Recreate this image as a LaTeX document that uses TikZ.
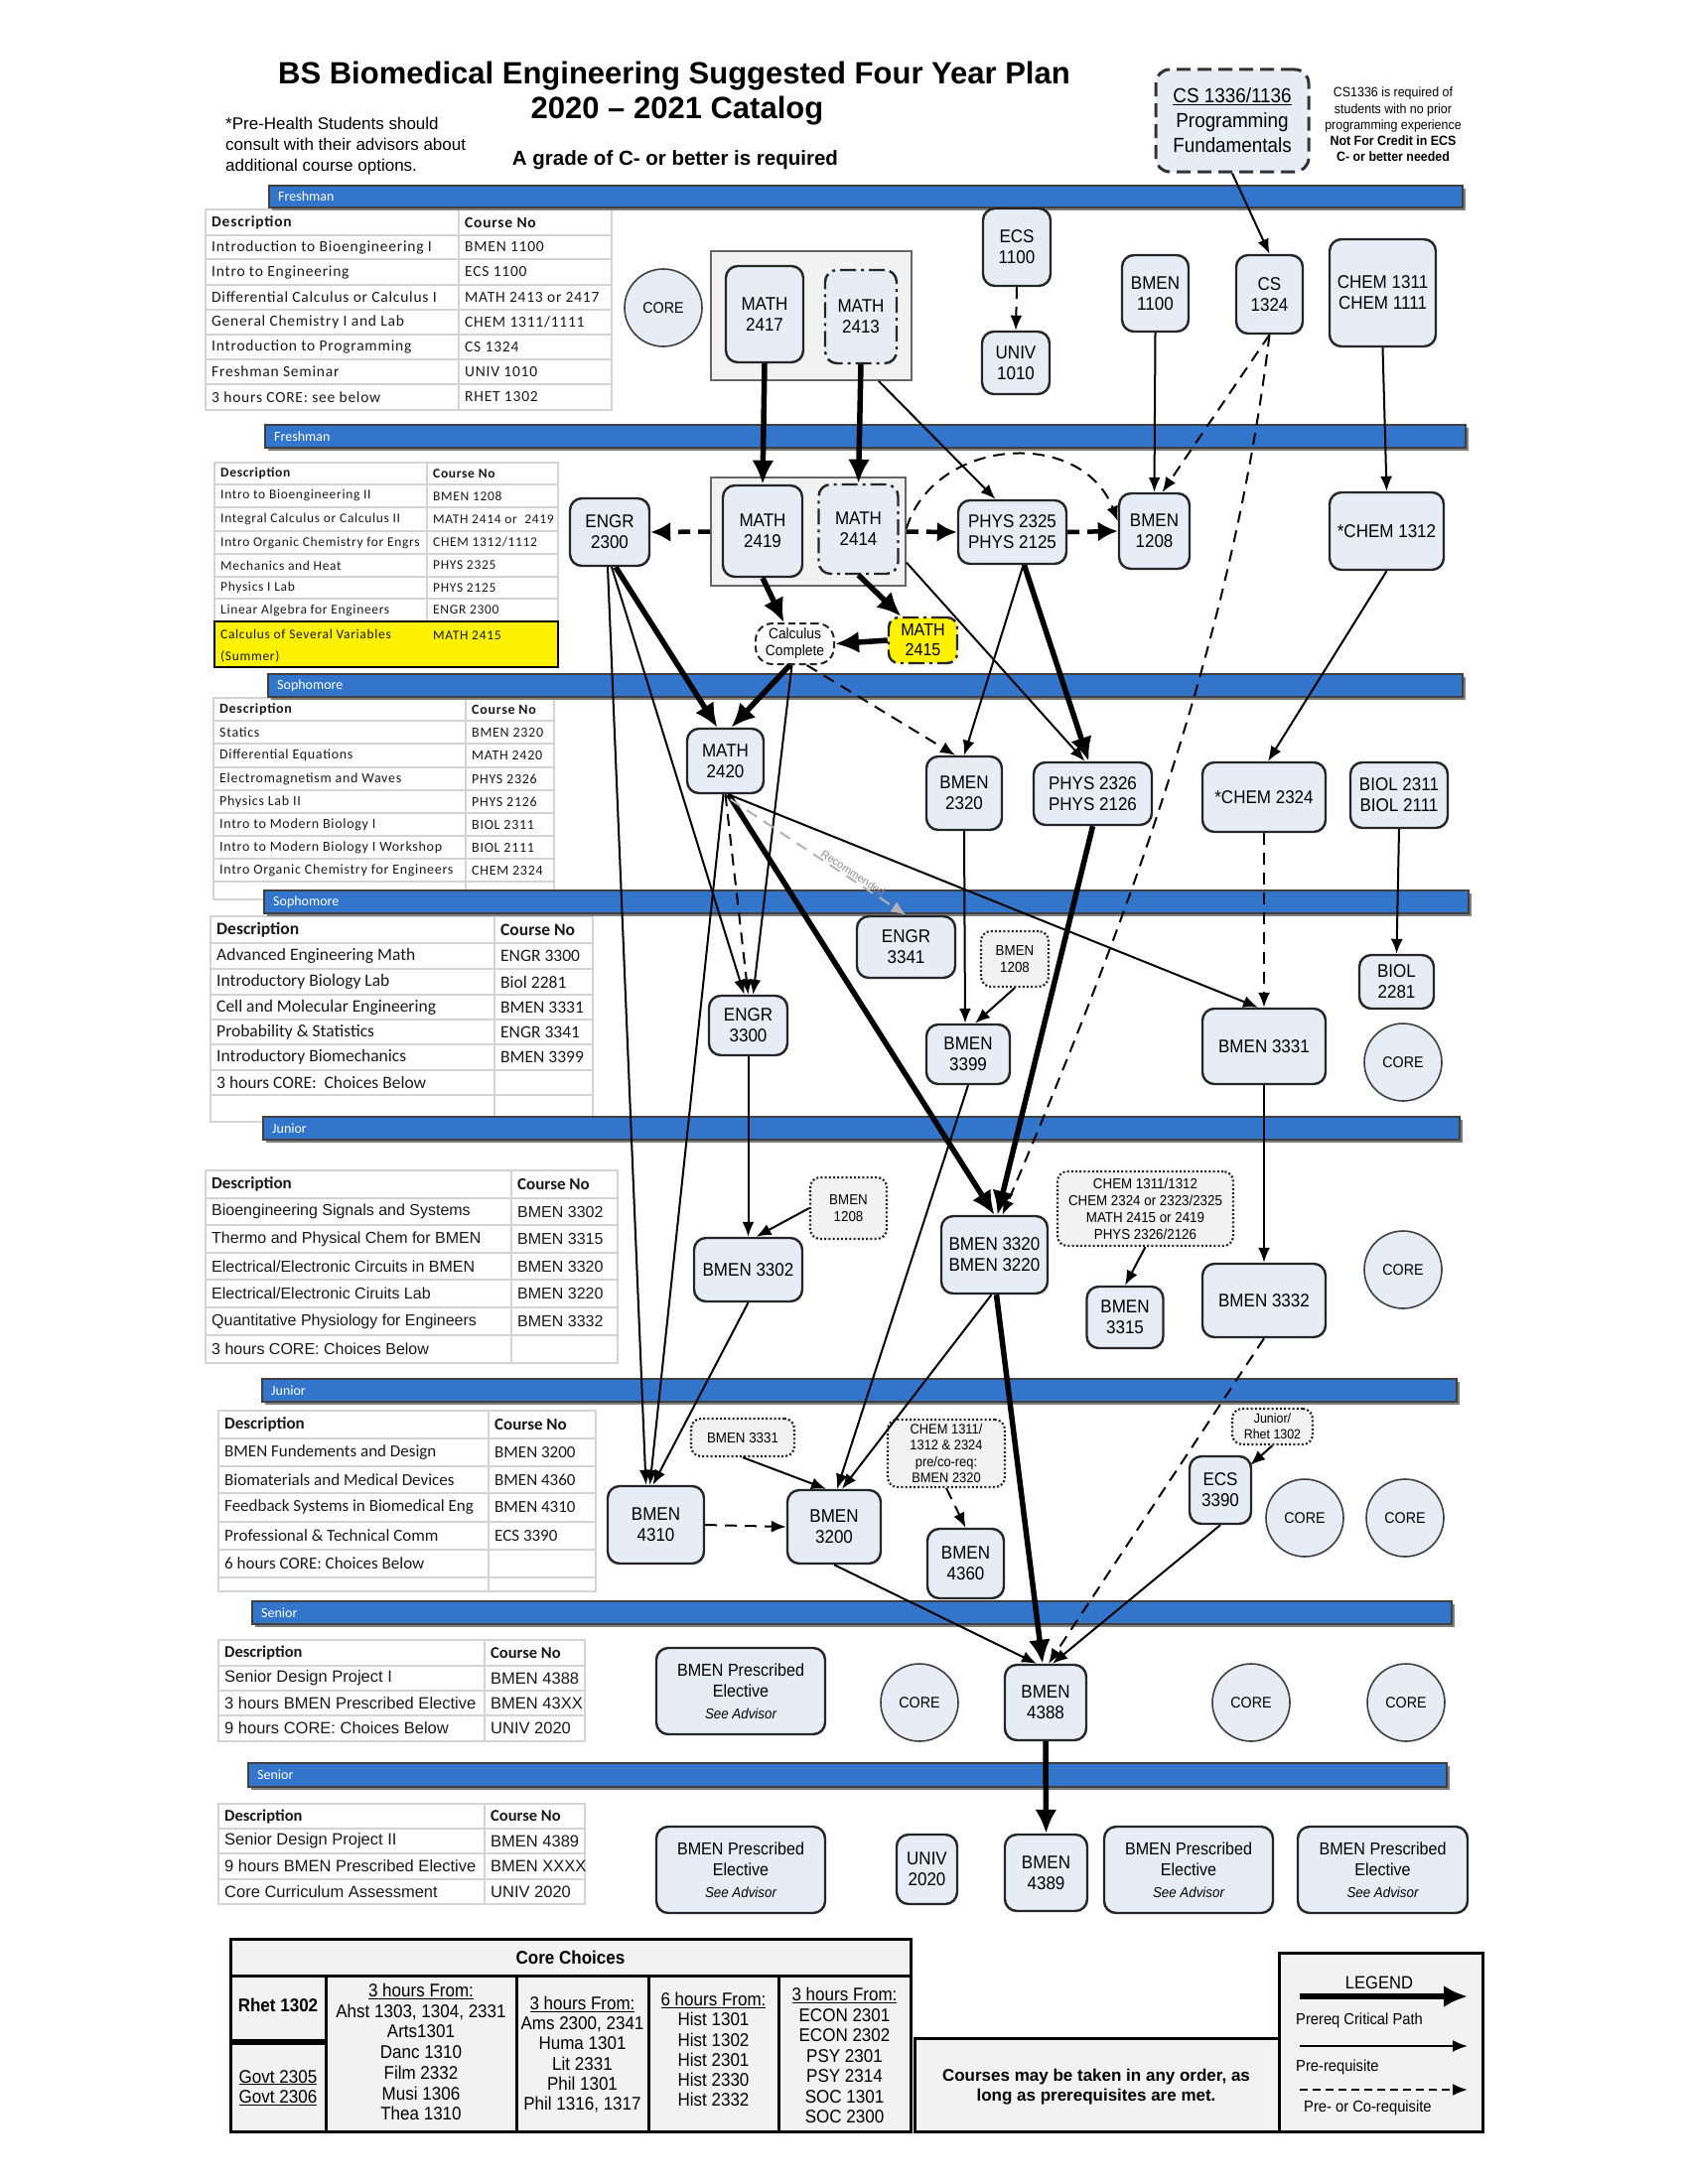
\documentclass[tikz,border=0pt]{standalone}
\usepackage{fontspec}
\setmainfont{Liberation Sans}
\newfontfamily\nar[FakeStretch=0.92]{Liberation Sans}
\newfontfamily\calfont{Carlito}
\newfontfamily\calsp[LetterSpace=5]{Carlito}
\usetikzlibrary{arrows.meta,calc}

\definecolor{nodefill}{RGB}{231,237,247}
\definecolor{bandblue}{RGB}{52,117,204}
\definecolor{tablegray}{RGB}{212,212,212}
\definecolor{notefill}{RGB}{242,242,242}
\newcommand\fsz[2]{\fontsize{#1}{#2}\selectfont}

\tikzset{
  course/.style={draw=black!85, line width=2.4pt, fill=nodefill, rounded corners=12pt,
    align=center, inner sep=0pt, font=\nar\fsz{18.5}{21}},
  group/.style={draw=black!60, line width=1.6pt, fill=black!5, inner sep=0pt},
  note/.style={draw=black!85, line width=2.2pt, dash pattern=on 2pt off 2.2pt, fill=notefill,
    rounded corners=10pt, align=center, inner sep=0pt, font=\nar\fsz{14.5}{17}},
  dashdot/.style={dash pattern=on 16pt off 5pt on 3pt off 5pt},
  core/.style={circle, draw=black!75, line width=1.6pt, fill=nodefill, minimum size=78pt,
    inner sep=0pt, font=\nar\fsz{15.5}{18}},
  elective/.style={course, minimum width=170, minimum height=87, font=\nar\fsz{17.5}{21.5}},
  band/.style={draw=black!75, line width=1.2pt, fill=bandblue},
  bandlabel/.style={anchor=west, text=white, font=\calfont\fsz{14}{16}, inner sep=0pt},
  tline/.style={draw=tablegray, line width=1.6pt},
  tcell/.style={anchor=west, inner sep=0pt, text=black!90},
  corecell/.style={draw=black, line width=3pt, fill=black!5},
  coretext/.style={align=center, inner sep=0pt, font=\nar\fsz{18.5}{20.7}},
  pre/.style={draw=black, line width=2pt, -{Latex[length=15pt,width=12pt]}},
  crit/.style={draw=black, line width=5.5pt, -{Latex[length=24pt,width=22pt]}},
  co/.style={draw=black, line width=2pt, dash pattern=on 12pt off 8pt, -{Latex[length=15pt,width=12pt]}},
  cothick/.style={draw=black, line width=4.5pt, dash pattern=on 12pt off 8pt, -{Latex[length=20pt,width=20pt]}},
  rec/.style={draw=black!30, line width=2pt, dash pattern=on 12pt off 8pt, -{Latex[length=15pt,width=12pt]}},
}

% blue year bar with drop shadow and label
\newcommand\bandbar[6]{%
  \fill[black!50] (#2+3,#3+3) rectangle (#4+3,#5+3);
  \draw[band] (#2,#3) rectangle (#4,#5);
  \node[bandlabel] (#1) at (#2+9,{(#3+#5)/2}) {#6};}

% course tables: left edge, column split, right edge, font
\newcommand\tabsetup[4]{\def\tbx{#1}\def\tbs{#2}\def\tbe{#3}\def\tbf{#4}}
\newcommand\trow[5]{%
  \draw[tline] (\tbx,#2) rectangle (\tbs,#3) (\tbs,#2) rectangle (\tbe,#3);
  \node[tcell, font=\tbf] (#1d) at (\tbx+6,{(#2+#3)/2}) {#4};
  \node[tcell, font=\tbf] (#1c) at (\tbs+6,{(#2+#3)/2}) {#5};}

\begin{document}
\begin{tikzpicture}[x=1pt,y=-1pt]
\fill[white] (0,0) rectangle (1700,2200);
\useasboundingbox (0,0) rectangle (1700,2200);

% ---------- headings ----------
\node[font=\bfseries\fsz{31}{36}] (title1) at (679,77) {BS Biomedical Engineering Suggested Four Year Plan};
\node[font=\bfseries\fsz{31}{36}] (title2) at (682,112) {2020 \textendash{} 2021 Catalog};
\node[font=\bfseries\fsz{20.5}{24}] (grade) at (680,161) {A grade of C- or better is required};
\node[anchor=west, align=left, inner sep=0pt, font=\fsz{17}{21}] (prehealth) at (227,147)
  {*Pre-Health Students should\\consult with their advisors about\\additional course options.};
\node[draw=black!80, line width=3pt, dash pattern=on 14pt off 7pt, fill=nodefill, rounded corners=14pt,
  minimum width=154, minimum height=103, align=center, inner sep=0pt, font=\nar\fsz{20.5}{25}]
  (cs1336) at (1241,121.5) {\underline{CS 1336/1136}\\Programming\\Fundamentals};
\node[align=center, inner sep=0pt, font=\nar\fsz{13.5}{16.2}] (csnote) at (1403,125.5)
  {CS1336 is required of\\students with no prior\\programming experience\\{\bfseries Not For Credit in ECS}\\{\bfseries C- or better needed}};

% ---------- tables ----------
\tabsetup{207}{462}{616}{\calsp\fsz{15.5}{18}}
\trow{ta0}{211}{237}{\bfseries Description}{\bfseries Course No}
\trow{ta1}{237}{261}{Introduction to Bioengineering I}{BMEN 1100}
\trow{ta2}{261}{287}{Intro to Engineering}{ECS 1100}
\trow{ta3}{287}{312}{Differential Calculus or Calculus I}{MATH 2413 or 2417}
\trow{ta4}{312}{337}{General Chemistry I and Lab}{CHEM 1311/1111}
\trow{ta5}{337}{362}{Introduction to Programming}{CS 1324}
\trow{ta6}{362}{387}{Freshman Seminar}{UNIV 1010}
\trow{ta7}{387}{413}{3 hours CORE: see below}{RHET 1302}

\tabsetup{216}{430}{562}{\calsp\fsz{13.5}{16}}
\trow{tb0}{466}{488}{\bfseries Description}{\bfseries Course No}
\trow{tb1}{488}{511}{Intro to Bioengineering II}{BMEN 1208}
\trow{tb2}{511}{535}{Integral Calculus or Calculus II}{MATH 2414 or\ \ 2419}
\trow{tb3}{535}{558}{Intro Organic Chemistry for Engrs}{CHEM 1312/1112}
\trow{tb4}{558}{581}{Mechanics and Heat}{PHYS 2325}
\trow{tb5}{581}{603}{Physics I Lab}{PHYS 2125}
\trow{tb6}{603}{626}{Linear Algebra for Engineers}{ENGR 2300}
\draw[fill=yellow, draw=black, line width=2pt] (216,626) rectangle (562,672);
\node[tcell, align=left, font=\calsp\fsz{13.5}{22}] (tb7d) at (222,651) {Calculus of Several Variables\\(Summer)};
\node[tcell, font=\calsp\fsz{13.5}{16}] (tb7c) at (436,640) {MATH 2415};

\tabsetup{215}{469}{558}{\calsp\fsz{14}{16}}
\trow{tc0}{703}{726}{\bfseries Description}{\bfseries Course No}
\trow{tc1}{726}{749}{Statics}{BMEN 2320}
\trow{tc2}{749}{773}{Differential Equations}{MATH 2420}
\trow{tc3}{773}{796}{Electromagnetism and Waves}{PHYS 2326}
\trow{tc4}{796}{819}{Physics Lab II}{PHYS 2126}
\trow{tc5}{819}{842}{Intro to Modern Biology I}{BIOL 2311}
\trow{tc6}{842}{865}{Intro to Modern Biology I Workshop}{BIOL 2111}
\trow{tc7}{865}{888}{Intro Organic Chemistry for Engineers}{CHEM 2324}
\trow{tc8}{888}{906}{}{}

\tabsetup{212}{498}{597}{\calfont\fsz{17.5}{20}}
\trow{td0}{923}{950}{\bfseries Description}{\bfseries Course No}
\trow{td1}{950}{976}{Advanced Engineering Math}{ENGR 3300}
\trow{td2}{976}{1002}{Introductory Biology Lab}{Biol 2281}
\trow{td3}{1002}{1027}{Cell and Molecular Engineering}{BMEN 3331}
\trow{td4}{1027}{1052}{Probability \& Statistics}{ENGR 3341}
\trow{td5}{1052}{1078}{Introductory Biomechanics}{BMEN 3399}
\trow{td6}{1078}{1103}{3 hours CORE:\ \ Choices Below}{}
\trow{td7}{1103}{1130}{}{}

\tabsetup{207}{515}{622}{\fsz{16}{19}}
\trow{te0}{1179}{1207}{\calfont\bfseries\fsz{17}{20}Description}{\calfont\bfseries\fsz{17}{20}Course No}
\trow{te1}{1207}{1234}{Bioengineering Signals and Systems}{BMEN 3302}
\trow{te2}{1234}{1262}{Thermo and Physical Chem for BMEN}{BMEN 3315}
\trow{te3}{1262}{1289}{Electrical/Electronic Circuits in BMEN}{BMEN 3320}
\trow{te4}{1289}{1317}{Electrical/Electronic Ciruits Lab}{BMEN 3220}
\trow{te5}{1317}{1345}{Quantitative Physiology for Engineers}{BMEN 3332}
\trow{te6}{1345}{1373}{3 hours CORE: Choices Below}{}

\tabsetup{220}{492}{600}{\calfont\fsz{17}{20}}
\trow{tf0}{1421}{1449}{\bfseries Description}{\bfseries Course No}
\trow{tf1}{1449}{1477}{BMEN Fundements and Design}{BMEN 3200}
\trow{tf2}{1477}{1504}{Biomaterials and Medical Devices}{BMEN 4360}
\trow{tf3}{1504}{1533}{Feedback Systems in Biomedical Eng}{BMEN 4310}
\trow{tf4}{1533}{1561}{Professional \& Technical Comm}{ECS 3390}
\trow{tf5}{1561}{1589}{6 hours CORE: Choices Below}{}
\trow{tf6}{1589}{1603}{}{}

\tabsetup{220}{488}{589}{\fsz{16.5}{19}}
\trow{tg0}{1652}{1678}{\calfont\bfseries\fsz{16.5}{19}Description}{\calfont\bfseries\fsz{16.5}{19}Course No}
\trow{tg1}{1678}{1703}{Senior Design Project I}{BMEN 4388}
\trow{tg2}{1703}{1728}{3 hours BMEN Prescribed Elective}{BMEN 43XX}
\trow{tg3}{1728}{1754}{9 hours CORE: Choices Below}{UNIV 2020}

\trow{th0}{1817}{1842}{\calfont\bfseries\fsz{16.5}{19}Description}{\calfont\bfseries\fsz{16.5}{19}Course No}
\trow{th1}{1842}{1867}{Senior Design Project II}{BMEN 4389}
\trow{th2}{1867}{1893}{9 hours BMEN Prescribed Elective}{BMEN XXXX}
\trow{th3}{1893}{1918}{Core Curriculum Assessment}{UNIV 2020}

% ---------- year bars ----------
\bandbar{fr1}{271}{187}{1473}{209}{Freshman}
\bandbar{fr2}{267}{428}{1476}{451}{Freshman}
\bandbar{so1}{270}{679}{1473}{702}{Sophomore}
\bandbar{so2}{266}{897}{1479}{920}{Sophomore}
\bandbar{ju1}{265}{1125}{1470}{1148}{Junior}
\bandbar{ju2}{264}{1389}{1467}{1412}{Junior}
\bandbar{se1}{254}{1613}{1462}{1636}{Senior}
\bandbar{se2}{250}{1776}{1457}{1800}{Senior}

% ---------- freshman, first term ----------
\node[core] (core1) at (668,310) {CORE};
\node[group, minimum width=202, minimum height=130] (grp1) at (817,318) {};
\node[course, minimum width=78, minimum height=97] (m2417) at (770,316.5) {MATH\\2417};
\node[course, dashdot, minimum width=72, minimum height=94] (m2413) at (867,319) {MATH\\2413};
\node[course, minimum width=68, minimum height=78] (ecs1100) at (1024,249) {ECS\\1100};
\node[course, minimum width=68, minimum height=63] (univ1010) at (1023,365.5) {UNIV\\1010};
\node[course, minimum width=67, minimum height=77] (bmen1100) at (1163.5,295.5) {BMEN\\1100};
\node[course, minimum width=67, minimum height=79] (cs1324) at (1278.5,296.5) {CS\\1324};
\node[course, minimum width=107, minimum height=108] (chem1311) at (1392.5,295) {CHEM 1311\\CHEM 1111};

% ---------- freshman, second term ----------
\node[course, minimum width=80, minimum height=68] (engr2300) at (614,536) {ENGR\\2300};
\node[group, minimum width=196, minimum height=109] (grp2) at (814,535.5) {};
\node[course, minimum width=80, minimum height=92] (m2419) at (768,535) {MATH\\2419};
\node[course, dashdot, minimum width=80, minimum height=90] (m2414) at (864.5,533) {MATH\\2414};
\node[course, minimum width=109, minimum height=64] (phys2325) at (1019.5,536) {PHYS 2325\\PHYS 2125};
\node[course, minimum width=71, minimum height=76] (bmen1208) at (1162.5,535) {BMEN\\1208};
\node[course, minimum width=115, minimum height=78] (chem1312) at (1396.5,535) {*CHEM 1312};
\node[course, draw=black!85, fill=white, line width=2pt, dash pattern=on 7pt off 4pt, rounded corners=17pt,
  minimum width=79, minimum height=41, font=\nar\fsz{15}{17}] (calc) at (800.5,648.5) {Calculus\\Complete};
\node[course, dashdot, fill=yellow, rounded corners=10pt, minimum width=69, minimum height=46,
  font=\nar\fsz{17.5}{20}] (m2415) at (929.5,645) {MATH\\2415};

% ---------- sophomore ----------
\node[course, minimum width=77, minimum height=65] (m2420) at (730.5,766.5) {MATH\\2420};
\node[course, minimum width=76, minimum height=74] (bmen2320) at (971,799) {BMEN\\2320};
\node[course, minimum width=119, minimum height=63] (phys2326) at (1100.5,799.5) {PHYS 2326\\PHYS 2126};
\node[course, minimum width=124, minimum height=70] (chem2324) at (1273,803) {*CHEM 2324};
\node[course, minimum width=98, minimum height=66] (biol2311) at (1409,801) {BIOL 2311\\BIOL 2111};
\node[course, minimum width=99, minimum height=62] (engr3341) at (912.5,954) {ENGR\\3341};
\node[note, minimum width=68, minimum height=56] (bmen1208a) at (1022,966) {BMEN\\1208};
\node[course, minimum width=79, minimum height=60] (engr3300) at (753.5,1033) {ENGR\\3300};
\node[course, minimum width=84, minimum height=60] (bmen3399) at (975,1062) {BMEN\\3399};
\node[course, minimum width=124, minimum height=76] (bmen3331) at (1273,1054) {BMEN 3331};
\node[course, minimum width=75, minimum height=54] (biol2281) at (1406.5,989) {BIOL\\2281};
\node[core] (core2) at (1413,1070) {CORE};

% ---------- junior ----------
\node[note, minimum width=77, minimum height=62] (bmen1208b) at (854.5,1217) {BMEN\\1208};
\node[course, minimum width=109, minimum height=64] (bmen3302) at (753.5,1279) {BMEN 3302};
\node[course, minimum width=107, minimum height=78] (bmen3320) at (1001.5,1264) {BMEN 3320\\BMEN 3220};
\node[note, minimum width=177, minimum height=75] (chem1) at (1153.5,1217.5)
  {CHEM 1311/1312\\CHEM 2324 or 2323/2325\\MATH 2415 or 2419\\PHYS 2326/2126};
\node[course, minimum width=77, minimum height=62] (bmen3315) at (1133,1327) {BMEN\\3315};
\node[course, minimum width=124, minimum height=74] (bmen3332) at (1273,1310) {BMEN 3332};
\node[core] (core3) at (1413,1279) {CORE};

\node[note, minimum width=104, minimum height=38] (bmen3331c) at (748,1448) {BMEN 3331};
\node[note, minimum width=118, minimum height=68, font=\nar\fsz{14}{16.3}] (chem2) at (953,1464)
  {CHEM 1311/\\1312 \& 2324\\pre/co-req:\\BMEN 2320};
\node[note, minimum width=81, minimum height=36, font=\nar\fsz{13.5}{16}] (jr) at (1281.5,1437) {Junior/\\Rhet 1302};
\node[course, minimum width=97, minimum height=78] (bmen4310) at (660.5,1536) {BMEN\\4310};
\node[course, minimum width=94, minimum height=74] (bmen3200) at (840,1538) {BMEN\\3200};
\node[course, minimum width=77, minimum height=70] (bmen4360) at (972.5,1575) {BMEN\\4360};
\node[course, minimum width=62, minimum height=68] (ecs3390) at (1229,1501) {ECS\\3390};
\node[core] (core4) at (1314,1529) {CORE};
\node[core] (core5) at (1415,1529) {CORE};

% ---------- senior ----------
\node[elective] (elec1) at (746,1703.5) {BMEN Prescribed\\Elective\\{\itshape\fsz{14.5}{21.5}See Advisor}};
\node[core] (core6) at (926,1715) {CORE};
\node[course, minimum width=82, minimum height=76] (bmen4388) at (1053,1715) {BMEN\\4388};
\node[core] (core7) at (1260,1715) {CORE};
\node[core] (core8) at (1416,1715) {CORE};

\node[elective] (elec2) at (746,1883.5) {BMEN Prescribed\\Elective\\{\itshape\fsz{14.5}{21.5}See Advisor}};
\node[course, minimum width=61, minimum height=70] (univ2020) at (933.5,1883) {UNIV\\2020};
\node[course, minimum width=83, minimum height=77] (bmen4389) at (1053.5,1886.5) {BMEN\\4389};
\node[elective] (elec3) at (1197,1883.5) {BMEN Prescribed\\Elective\\{\itshape\fsz{14.5}{21.5}See Advisor}};
\node[elective, minimum width=171] (elec4) at (1392.5,1883.5) {BMEN Prescribed\\Elective\\{\itshape\fsz{14.5}{21.5}See Advisor}};

% ---------- prerequisite connectors ----------
\draw[pre] (cs1336.south) -- (cs1324.north);
\draw[co] (ecs1100.south) -- (univ1010.north);
\draw[crit] (m2417.south) -- (m2419.north);
\draw[crit] (m2413.south) -- (m2414.north);
\draw[pre] ($(grp1.south east)+(-34,0)$) -- ($(phys2325.north)+(-17,0)$);
\draw[pre] (bmen1100.south) -- (bmen1208.north);
\draw[co] (cs1324.south) -- ($(bmen1208.north)+(8,0)$);
\draw[co] (cs1324.south) .. controls +(-36,300) and +(129,-303) .. ($(bmen3320.north)+(8,0)$);
\draw[pre] (chem1311.south) -- (chem1312.north);

\draw[cothick] (grp2.west) -- (engr2300.east);
\draw[cothick] (grp2.east) -- (phys2325.west);
\draw[cothick] (phys2325.east) -- (bmen1208.west);
\draw[co] ($(grp2.east)+(0,-3)$) .. controls +(28,-92) and +(-37,-95) .. ($(bmen1208.west)+(0,-10)$);
\draw[crit] (m2419.south) -- ($(calc.north)+(-11,0)$);
\draw[crit] (m2414.south) -- ($(m2415.north)+(-22,0)$);
\draw[crit] (m2415.west) -- (calc.east);
\draw[pre] ($(grp2.east)+(0,31)$) -- ($(phys2326.north)+(-8,0)$);
\draw[pre] ($(phys2325.south)+(11,0)$) -- (bmen2320.north);
\draw[crit] ($(phys2325.south)+(12,0)$) -- ($(phys2326.north)+(-4,0)$);
\draw[co] ($(calc.south)+(12,0)$) -- ($(bmen2320.north)+(-9,0)$);
\draw[crit] ($(engr2300.south)+(6,0)$) -- ($(m2420.north)+(-8,0)$);
\draw[crit] ($(calc.south)+(-5,0)$) -- ($(m2420.north)+(6,0)$);
\draw[pre] ($(calc.south)+(-3,0)$) -- ($(engr3300.north)+(5,0)$);
\draw[pre] ($(engr2300.south)+(2,0)$) -- ($(engr3300.north)+(-4,0)$);
\draw[pre] (chem1312.south) -- ($(chem2324.north)+(4,0)$);

\draw[co] (m2420.south) -- (engr3300.north);
\draw[crit] ($(m2420.south)+(3,0)$) -- (bmen3320.north);
\draw[pre] ($(m2420.south)+(3,0)$) -- ($(bmen3331.north)+(-6,0)$);
\draw[rec] ($(m2420.south)+(5,5)$) -- (engr3341.north)
  node[pos=0.68, sloped, above=1pt, inner sep=0pt, text=black!45, font=\fsz{11}{13}] (reclabel) {Recommended};
\draw[pre] ($(engr2300.south)+(-2,0)$) -- ($(bmen4310.north)+(-10,0)$);
\draw[pre] ($(m2420.south)+(-2,0)$) -- ($(bmen4310.north)+(-6,0)$);
\draw[pre] (bmen2320.south) -- ($(bmen3399.north)+(-3,0)$);
\draw[pre] (bmen1208a.south) -- ($(bmen3399.north)+(7,0)$);
\draw[co] (chem2324.south) -- (bmen3331.north);
\draw[pre] (biol2311.south) -- (biol2281.north);
\draw[crit] (phys2326.south) -- ($(bmen3320.north)+(3,0)$);

\draw[pre] (engr3300.south) -- (bmen3302.north);
\draw[pre] (bmen1208b.west) -- ($(bmen3302.north)+(8,0)$);
\draw[pre] (bmen3302.south) -- ($(bmen4310.north)+(-3,0)$);
\draw[pre] (chem1.south) -- (bmen3315.north);
\draw[pre] (bmen3331.south) -- (bmen3332.north);
\draw[pre] (bmen3399.south) -- ($(bmen3200.north)+(3,0)$);
\draw[pre] ($(bmen3320.south)+(-3,0)$) -- ($(bmen3200.north)+(8,0)$);
\draw[pre] (bmen3331c.south) -- ($(bmen3200.north)+(-8,0)$);
\draw[co] (bmen4310.east) -- (bmen3200.west);
\draw[co] (chem2.south) -- (bmen4360.north);
\draw[pre] (jr.south) -- ($(ecs3390.north east)+(-2,10)$);

\draw[crit] ($(bmen3320.south)+(2,0)$) -- ($(bmen4388.north)+(-3,0)$);
\draw[pre] (bmen3200.south) -- ($(bmen4388.north)+(-9,0)$);
\draw[pre] (ecs3390.south) -- ($(bmen4388.north)+(7,0)$);
\draw[co] (bmen3332.south) -- ($(bmen4388.north)+(3,0)$);
\draw[crit] (bmen4388.south) -- (bmen4389.north);

% ---------- core choices ----------
\draw[corecell] (232,1953) rectangle (917,1990);
\node[font=\nar\bfseries\fsz{18.5}{21}] (corehead) at (574.5,1972) {Core Choices};
\draw[corecell] (232,1990) rectangle (328,2057);
\draw[corecell] (232,2057) rectangle (328,2147);
\draw[black, line width=6pt] (232,2057) -- (328,2057);
\draw[corecell] (328,1990) rectangle (520,2147);
\draw[corecell] (520,1990) rectangle (653,2147);
\draw[corecell] (653,1990) rectangle (784,2147);
\draw[corecell] (784,1990) rectangle (917,2147);
\node[coretext, font=\nar\bfseries\fsz{18.5}{21}] (rhet) at (280,2020) {Rhet 1302};
\node[coretext] (govt) at (280,2103) {\underline{Govt 2305}\\\underline{Govt 2306}};
\node[coretext] (col2) at (424,2067) {\underline{3 hours From:}\\Ahst 1303, 1304, 2331\\Arts1301\\Danc 1310\\Film 2332\\Musi 1306\\Thea 1310};
\node[coretext, font=\nar\fsz{18.5}{20.2}] (col3) at (586.5,2069.5) {\underline{3 hours From:}\\Ams 2300, 2341\\Huma 1301\\Lit 2331\\Phil 1301\\Phil 1316, 1317};
\node[coretext, font=\nar\fsz{18.5}{20.2}] (col4) at (718.5,2064.5) {\underline{6 hours From:}\\Hist 1301\\Hist 1302\\Hist 2301\\Hist 2330\\Hist 2332};
\node[coretext, font=\nar\fsz{18.5}{20.5}] (col5) at (850.5,2070.5) {\underline{3 hours From:}\\ECON 2301\\ECON 2302\\PSY 2301\\PSY 2314\\SOC 1301\\SOC 2300};

\draw[corecell] (921,2053) rectangle (1288,2147);
\node[align=center, inner sep=0pt, font=\bfseries\fsz{17}{20}] (anyorder) at (1104,2102)
  {Courses may be taken in any order, as\\long as prerequisites are met.};

% ---------- legend ----------
\draw[corecell] (1288,1967) rectangle (1493,2147);
\node[font=\nar\fsz{18}{20}] (legend) at (1389,1997) {LEGEND};
\coordinate (lgAa) at (1309,2011); \coordinate (lgAb) at (1478,2011);
\coordinate (lgBa) at (1309,2061); \coordinate (lgBb) at (1478,2061);
\coordinate (lgCa) at (1309,2105); \coordinate (lgCb) at (1478,2105);
\draw[crit] (lgAa) -- (lgAb);
\draw[pre] (lgBa) -- (lgBb);
\draw[co, dash pattern=on 8pt off 5pt] (lgCa) -- (lgCb);
\node[anchor=west, inner sep=0pt, font=\nar\fsz{16}{18}] (lgA) at (1305,2035) {Prereq Critical Path};
\node[anchor=west, inner sep=0pt, font=\nar\fsz{16}{18}] (lgB) at (1305,2082) {Pre-requisite};
\node[anchor=west, inner sep=0pt, font=\nar\fsz{16}{18}] (lgC) at (1313,2123) {Pre- or Co-requisite};

\end{tikzpicture}
\end{document}
